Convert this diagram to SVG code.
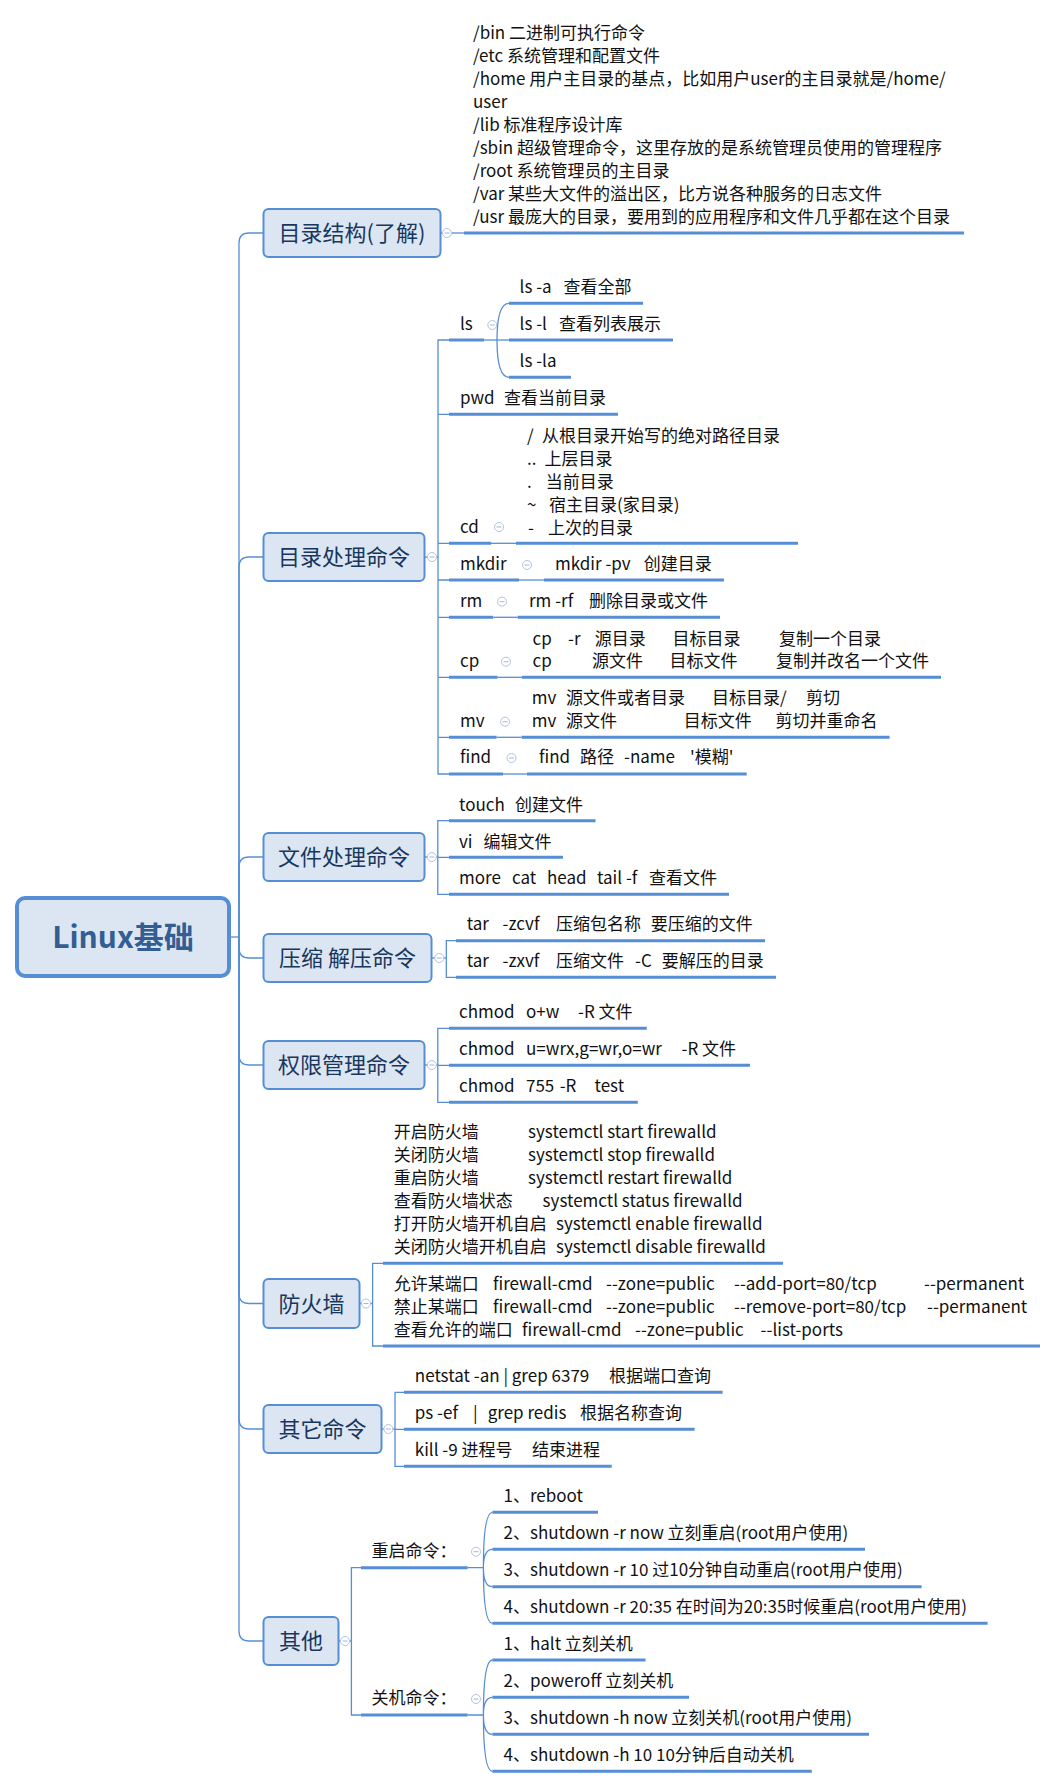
<svg xmlns="http://www.w3.org/2000/svg" xmlns:xlink="http://www.w3.org/1999/xlink" width="1058" height="1788" viewBox="0 0 1058 1788">
<style>
.box{fill:#dce6f2;stroke:#558ed5;stroke-width:2}
.rootbox{fill:#dce6f2;stroke:#558ed5;stroke-width:4}
.title{font-family:"Noto Sans CJK SC","Noto Sans",sans-serif;font-size:22px;fill:#17375e;text-anchor:middle}
.roottext{font-family:"Noto Sans CJK SC","Noto Sans",sans-serif;font-size:30px;font-weight:bold;fill:#335e93;text-anchor:middle}
.t{font-family:"Noto Sans CJK SC","Noto Sans",sans-serif;font-size:17px;fill:#111}
.ul{stroke:#558ed5;stroke-width:3;fill:none}
.ln{stroke:#558ed5;stroke-width:1.3;fill:none}
.cc{fill:#fff;stroke:#b3c3e2;stroke-width:1}
.cm{stroke:#a3b6dc;stroke-width:1}
</style>
<defs>
<g id="col"><circle class="cc" r="4.5"/><line class="cm" x1="-2.5" y1="0" x2="2.5" y2="0"/></g>
</defs>

<g id="connectors">
<!-- trunk -->
<path class="ln" d="M229,937 H239"/>
<path class="ln" d="M239,937 V243 Q239,233 249,233 H263.5"/>
<path class="ln" d="M239,937 V567 Q239,557 249,557 H263.5"/>
<path class="ln" d="M239,937 V867 Q239,857 249,857 H263.5"/>
<path class="ln" d="M239,937 V948 Q239,958 249,958 H263.5"/>
<path class="ln" d="M239,937 V1055 Q239,1065 249,1065 H263.5"/>
<path class="ln" d="M239,937 V1293.5 Q239,1303.5 249,1303.5 H263.5"/>
<path class="ln" d="M239,937 V1419 Q239,1429 249,1429 H263.5"/>
<path class="ln" d="M239,937 V1631 Q239,1641 249,1641 H263.5"/>

<!-- branch 1 -->
<path class="ln" d="M440.5,233 H464"/>
<path class="ul" d="M464,233 H964"/>

<!-- branch 2 -->
<path class="ln" d="M425,557 H438"/>
<path class="ln" d="M449,340 H438 V774 H449"/>
<path class="ln" d="M438,414.3 H449 M438,543.3 H449 M438,580 H449 M438,617.3 H449 M438,677.3 H449 M438,737.3 H449"/>
<path class="ul" d="M449,340 H484"/>
<path class="ln" d="M484,340 H509"/>
<path class="ln" d="M497,340 Q497,303.3 509,303.3 M497,340 Q497,377.3 509,377.3"/>
<path class="ul" d="M509,303.3 H643 M509,340 H673 M509,377.3 H571"/>
<path class="ul" d="M449,414.3 H618"/>
<path class="ul" d="M449,543.3 H491"/><path class="ln" d="M491,543.3 H516"/><path class="ul" d="M516,543.3 H798"/>
<path class="ul" d="M449,580 H519"/><path class="ln" d="M519,580 H544"/><path class="ul" d="M544,580 H724"/>
<path class="ul" d="M449,617.3 H493"/><path class="ln" d="M493,617.3 H517.6"/><path class="ul" d="M517.6,617.3 H720"/>
<path class="ul" d="M449,677.3 H497.6"/><path class="ln" d="M497.6,677.3 H521.7"/><path class="ul" d="M521.7,677.3 H941"/>
<path class="ul" d="M449,737.3 H496.6"/><path class="ln" d="M496.6,737.3 H521.7"/><path class="ul" d="M521.7,737.3 H889.6"/>
<path class="ul" d="M449,774 H503"/><path class="ln" d="M503,774 H527"/><path class="ul" d="M527,774 H746.7"/>

<!-- branch 3 -->
<path class="ln" d="M424.4,857 H437.8"/>
<path class="ln" d="M449,820.7 H437.8 V894.3 H449 M437.8,857.3 H449"/>
<path class="ul" d="M449,820.7 H595.5 M449,857.3 H563 M449,894.3 H729"/>

<!-- branch 4 -->
<path class="ln" d="M431.8,958 H446.3"/>
<path class="ln" d="M456,940.7 H446.3 V977.3 H456"/>
<path class="ul" d="M456,940.7 H765 M456,977.3 H776"/>

<!-- branch 5 -->
<path class="ln" d="M424.4,1065 H437.8"/>
<path class="ln" d="M449,1028.3 H437.8 V1102.3 H449 M437.8,1065.3 H449"/>
<path class="ul" d="M449,1028.3 H646.8 M449,1065.3 H750 M449,1102.3 H637.8"/>

<!-- branch 6 -->
<path class="ln" d="M359.5,1303.5 H372.6"/>
<path class="ln" d="M383,1263.3 H372.6 V1346 H383"/>
<path class="ul" d="M383,1263.3 H783 M383,1346 H1040"/>

<!-- branch 7 -->
<path class="ln" d="M382,1429 H395"/>
<path class="ln" d="M404,1392.3 H395 V1466.3 H404 M395,1429.3 H404"/>
<path class="ul" d="M404,1392.3 H722.6 M404,1429.3 H694.6 M404,1466.3 H611.7"/>

<!-- branch 8 -->
<path class="ln" d="M338.5,1641 H351.4"/>
<path class="ln" d="M361,1567.7 H351.4 V1715 H361"/>
<path class="ul" d="M361,1567.7 H467.6 M361,1715 H467.6"/>
<path class="ln" d="M467.6,1567.7 H483.4 M467.6,1715 H483.4"/>
<path class="ln" d="M483.4,1567.7 Q483.4,1512.3 492.4,1512.3 M483.4,1567.7 Q483.4,1549.3 492.4,1549.3 M483.4,1567.7 Q483.4,1586.7 492.4,1586.7 M483.4,1567.7 Q483.4,1623.3 492.4,1623.3"/>
<path class="ln" d="M483.4,1715 Q483.4,1660 492.4,1660 M483.4,1715 Q483.4,1697.3 492.4,1697.3 M483.4,1715 Q483.4,1734.3 492.4,1734.3 M483.4,1715 Q483.4,1771.3 492.4,1771.3"/>
<path class="ul" d="M492.4,1512.3 H598 M492.4,1549.3 H865 M492.4,1586.7 H921.6 M492.4,1623.3 H987.6"/>
<path class="ul" d="M492.4,1660 H645.5 M492.4,1697.3 H689 M492.4,1734.3 H869 M492.4,1771.3 H811.8"/>
</g>

<g id="collapse">
<use href="#col" x="447" y="233"/>
<use href="#col" x="432" y="557"/>
<use href="#col" x="492.3" y="325"/>
<use href="#col" x="499" y="527"/>
<use href="#col" x="527" y="565"/>
<use href="#col" x="502" y="601.7"/>
<use href="#col" x="506" y="661.7"/>
<use href="#col" x="505" y="721.7"/>
<use href="#col" x="511.5" y="758"/>
<use href="#col" x="431.8" y="857"/>
<use href="#col" x="439.3" y="958"/>
<use href="#col" x="431.8" y="1065"/>
<use href="#col" x="366" y="1303.5"/>
<use href="#col" x="388.4" y="1429"/>
<use href="#col" x="345" y="1641"/>
<use href="#col" x="476" y="1551.7"/>
<use href="#col" x="476" y="1699"/>
</g>

<g id="root">
<rect class="rootbox" x="17" y="898" width="212" height="78" rx="8"/>
<text class="roottext" x="123" y="948">Linux基础</text>
</g>

<g id="n-mulu">
<rect class="box" x="263.5" y="209" width="177" height="48" rx="5"/>
<text class="title" x="352" y="241">目录结构(了解)</text>
</g>
<g id="n-mulu-c">
<text class="t" x="473" y="39.3">/bin 二进制可执行命令</text>
<text class="t" x="473" y="62.2">/etc 系统管理和配置文件</text>
<text class="t" x="473" y="85.2">/home 用户主目录的基点，比如用户user的主目录就是/home/</text>
<text class="t" x="473" y="108.1">user</text>
<text class="t" x="473" y="131">/lib 标准程序设计库</text>
<text class="t" x="473" y="154">/sbin 超级管理命令，这里存放的是系统管理员使用的管理程序</text>
<text class="t" x="473" y="176.9">/root 系统管理员的主目录</text>
<text class="t" x="473" y="199.8">/var 某些大文件的溢出区，比方说各种服务的日志文件</text>
<text class="t" x="473" y="222.7">/usr 最庞大的目录，要用到的应用程序和文件几乎都在这个目录</text>
</g>

<g id="n-dircmd">
<rect class="box" x="263.5" y="533" width="161" height="48" rx="5"/>
<text class="title" x="344" y="565">目录处理命令</text>
</g>
<g id="n-ls">
<text class="t" x="460" y="330">ls</text>
<text class="t" y="292.7"><tspan x="519.6">ls -a</tspan><tspan x="563.6">查看全部</tspan></text>
<text class="t" y="330"><tspan x="519.6">ls -l</tspan><tspan x="559">查看列表展示</tspan></text>
<text class="t" x="519.6" y="366.7">ls -la</text>
</g>
<g id="n-pwd">
<text class="t" y="404"><tspan x="460">pwd</tspan><tspan x="504">查看当前目录</tspan></text>
</g>
<g id="n-cd">
<text class="t" x="460" y="532.7">cd</text>
<text class="t" y="442"><tspan x="527">/</tspan><tspan x="542">从根目录开始写的绝对路径目录</tspan></text>
<text class="t" y="465"><tspan x="527">..</tspan><tspan x="544.6">上层目录</tspan></text>
<text class="t" y="488"><tspan x="527">.</tspan><tspan x="545.7">当前目录</tspan></text>
<text class="t" y="511"><tspan x="527">~</tspan><tspan x="549">宿主目录(家目录)</tspan></text>
<text class="t" y="534"><tspan x="528">-</tspan><tspan x="548">上次的目录</tspan></text>
</g>
<g id="n-mkdir">
<text class="t" x="460" y="570">mkdir</text>
<text class="t" y="570"><tspan x="555">mkdir -pv</tspan><tspan x="643.7">创建目录</tspan></text>
</g>
<g id="n-rm">
<text class="t" x="460" y="606.7">rm</text>
<text class="t" y="606.7"><tspan x="529">rm -rf</tspan><tspan x="589">删除目录或文件</tspan></text>
</g>
<g id="n-cp">
<text class="t" x="460" y="666.7">cp</text>
<text class="t" y="645"><tspan x="532.5">cp</tspan><tspan x="568">-r</tspan><tspan x="594.8">源目录</tspan><tspan x="672.6">目标目录</tspan><tspan x="779">复制一个目录</tspan></text>
<text class="t" y="666.7"><tspan x="532.5">cp</tspan><tspan x="592">源文件</tspan><tspan x="669.6">目标文件</tspan><tspan x="776">复制并改名一个文件</tspan></text>
</g>
<g id="n-mv">
<text class="t" x="460" y="726.7">mv</text>
<text class="t" y="704"><tspan x="531.8">mv</tspan><tspan x="566">源文件或者目录</tspan><tspan x="712">目标目录/</tspan><tspan x="806">剪切</tspan></text>
<text class="t" y="726.7"><tspan x="531.8">mv</tspan><tspan x="566">源文件</tspan><tspan x="683.7">目标文件</tspan><tspan x="775.6">剪切并重命名</tspan></text>
</g>
<g id="n-find">
<text class="t" x="460" y="763.3">find</text>
<text class="t" y="763.3"><tspan x="539">find</tspan><tspan x="580">路径</tspan><tspan x="624">-name</tspan><tspan x="690">'模糊'</tspan></text>
</g>

<g id="n-filecmd">
<rect class="box" x="263.5" y="833" width="161" height="48" rx="5"/>
<text class="title" x="344" y="865">文件处理命令</text>
<text class="t" y="810.7"><tspan x="459">touch</tspan><tspan x="515">创建文件</tspan></text>
<text class="t" y="847.7"><tspan x="459">vi</tspan><tspan x="483.6">编辑文件</tspan></text>
<text class="t" y="884.3"><tspan x="459">more</tspan><tspan x="512">cat</tspan><tspan x="547">head</tspan><tspan x="597">tail -f</tspan><tspan x="649">查看文件</tspan></text>
</g>

<g id="n-tar">
<rect class="box" x="263.5" y="934" width="168" height="48" rx="5"/>
<text class="title" x="347.5" y="966">压缩 解压命令</text>
<text class="t" y="930"><tspan x="466.7">tar</tspan><tspan x="502.5">-zcvf</tspan><tspan x="556">压缩包名称</tspan><tspan x="650.7">要压缩的文件</tspan></text>
<text class="t" y="966.7"><tspan x="466.7">tar</tspan><tspan x="502.5">-zxvf</tspan><tspan x="556">压缩文件</tspan><tspan x="635">-C</tspan><tspan x="661.7">要解压的目录</tspan></text>
</g>

<g id="n-chmod">
<rect class="box" x="263.5" y="1041" width="161" height="48" rx="5"/>
<text class="title" x="344" y="1073">权限管理命令</text>
<text class="t" y="1018.3"><tspan x="459">chmod</tspan><tspan x="526">o+w</tspan><tspan x="578">-R 文件</tspan></text>
<text class="t" y="1055.3"><tspan x="459">chmod</tspan><tspan x="526">u=wrx,g=wr,o=wr</tspan><tspan x="681.6">-R 文件</tspan></text>
<text class="t" y="1091.7"><tspan x="459">chmod</tspan><tspan x="526">755</tspan><tspan x="559.7">-R</tspan><tspan x="594.5">test</tspan></text>
</g>

<g id="n-firewall">
<rect class="box" x="263.5" y="1279" width="96" height="49" rx="5"/>
<text class="title" x="311.5" y="1311.5">防火墙</text>
<text class="t" y="1138"><tspan x="393.7">开启防火墙</tspan><tspan x="528">systemctl start firewalld</tspan></text>
<text class="t" y="1161"><tspan x="393.7">关闭防火墙</tspan><tspan x="528">systemctl stop firewalld</tspan></text>
<text class="t" y="1184"><tspan x="393.7">重启防火墙</tspan><tspan x="528">systemctl restart firewalld</tspan></text>
<text class="t" y="1207"><tspan x="393.7">查看防火墙状态</tspan><tspan x="542.6">systemctl status firewalld</tspan></text>
<text class="t" y="1230"><tspan x="393.7">打开防火墙开机自启</tspan><tspan x="556">systemctl enable firewalld</tspan></text>
<text class="t" y="1253"><tspan x="393.7">关闭防火墙开机自启</tspan><tspan x="556">systemctl disable firewalld</tspan></text>
<text class="t" y="1290"><tspan x="393.7">允许某端口</tspan><tspan x="493">firewall-cmd</tspan><tspan x="606">--zone=public</tspan><tspan x="734">--add-port=80/tcp</tspan><tspan x="924">--permanent</tspan></text>
<text class="t" y="1313"><tspan x="393.7">禁止某端口</tspan><tspan x="493">firewall-cmd</tspan><tspan x="606">--zone=public</tspan><tspan x="734">--remove-port=80/tcp</tspan><tspan x="927">--permanent</tspan></text>
<text class="t" y="1336"><tspan x="393.7">查看允许的端口</tspan><tspan x="522">firewall-cmd</tspan><tspan x="635">--zone=public</tspan><tspan x="760.6">--list-ports</tspan></text>
</g>

<g id="n-other-cmd">
<rect class="box" x="263.5" y="1405" width="118" height="48" rx="5"/>
<text class="title" x="322.5" y="1437">其它命令</text>
<text class="t" y="1381.7"><tspan x="414.8">netstat -an | grep 6379</tspan><tspan x="609">根据端口查询</tspan></text>
<text class="t" y="1419"><tspan x="414.8">ps -ef</tspan><tspan x="473">|</tspan><tspan x="487.7">grep redis</tspan><tspan x="580">根据名称查询</tspan></text>
<text class="t" y="1455.7"><tspan x="414.8">kill -9 进程号</tspan><tspan x="532">结束进程</tspan></text>
</g>

<g id="n-other">
<rect class="box" x="263.5" y="1617" width="75" height="48" rx="5"/>
<text class="title" x="301" y="1649">其他</text>
<text class="t" x="371.5" y="1556.7">重启命令：</text>
<text class="t" x="503.5" y="1501.7">1、reboot</text>
<text class="t" x="503.5" y="1539">2、shutdown -r now 立刻重启(root用户使用)</text>
<text class="t" x="503.5" y="1575.7">3、shutdown -r 10 过10分钟自动重启(root用户使用)</text>
<text class="t" x="503.5" y="1612.7">4、shutdown -r 20:35 在时间为20:35时候重启(root用户使用)</text>
<text class="t" x="371.5" y="1704">关机命令：</text>
<text class="t" x="503.5" y="1650">1、halt 立刻关机</text>
<text class="t" x="503.5" y="1687.3">2、poweroff 立刻关机</text>
<text class="t" x="503.5" y="1724">3、shutdown -h now 立刻关机(root用户使用)</text>
<text class="t" x="503.5" y="1761">4、shutdown -h 10 10分钟后自动关机</text>
</g>
</svg>
